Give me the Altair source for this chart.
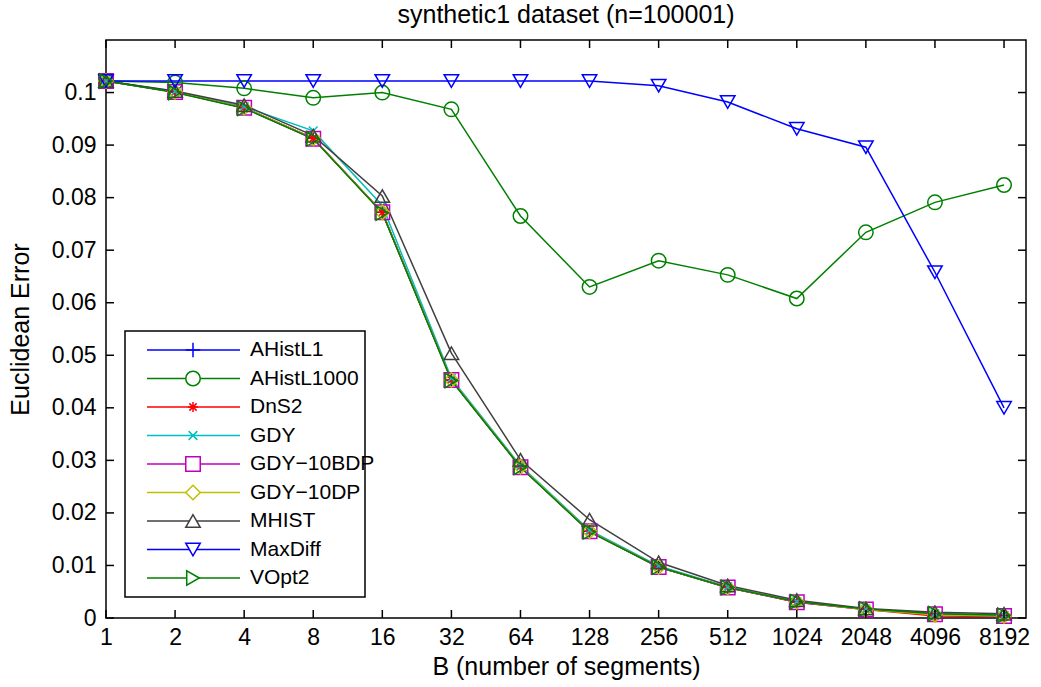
import altair as alt
import pandas as pd

# ---------------- data ----------------
B = [1, 2, 4, 8, 16, 32, 64, 128, 256, 512, 1024, 2048, 4096, 8192]

series_names = ["AHistL1", "AHistL1000", "DnS2", "GDY", "GDY−10BDP",
                "GDY−10DP", "MHIST", "MaxDiff", "VOpt2"]

ahistl1 = [0.1022, 0.1001, 0.0971, 0.0913, 0.0772, 0.0453, 0.0288, 0.0165, 0.0097, 0.0058, 0.0031, 0.0017, 0.0008, 0.0005]
ahistl1000 = [0.1022, 0.1019, 0.1008, 0.0990, 0.1000, 0.0968, 0.0765, 0.0630, 0.0680, 0.0653, 0.0608, 0.0734, 0.0791, 0.0824]
dns2 = [0.1022, 0.1001, 0.0971, 0.0913, 0.0772, 0.0453, 0.0288, 0.0165, 0.0097, 0.0058, 0.0030, 0.0016, 0.0004, 0.0003]
gdy = [0.1022, 0.1002, 0.0973, 0.0927, 0.0785, 0.0456, 0.0290, 0.0167, 0.0099, 0.0059, 0.0031, 0.0017, 0.0008, 0.0005]
gdy10bdp = [0.1022, 0.1001, 0.0971, 0.0912, 0.0772, 0.0453, 0.0287, 0.0165, 0.0097, 0.0058, 0.0030, 0.0016, 0.0007, 0.0004]
gdy10dp = [0.1022, 0.1001, 0.0971, 0.0913, 0.0772, 0.0453, 0.0288, 0.0165, 0.0097, 0.0058, 0.0031, 0.0016, 0.0006, 0.0004]
mhist = [0.1022, 0.1003, 0.0976, 0.0918, 0.0803, 0.0504, 0.0301, 0.0187, 0.0106, 0.0062, 0.0034, 0.0018, 0.0011, 0.0008]
maxdiff = [0.1022, 0.1022, 0.1022, 0.1022, 0.1022, 0.1022, 0.1022, 0.1022, 0.1013, 0.0982, 0.0931, 0.0896, 0.0658, 0.0400]
vopt2 = [0.1022, 0.1000, 0.0970, 0.0912, 0.0771, 0.0452, 0.0287, 0.0164, 0.0097, 0.0058, 0.0031, 0.0017, 0.0008, 0.0005]

y_ticks = [0, 0.01, 0.02, 0.03, 0.04, 0.05, 0.06, 0.07, 0.08, 0.09, 0.1]

series_values = [ahistl1, ahistl1000, dns2, gdy, gdy10bdp, gdy10dp, mhist, maxdiff, vopt2]

colors = ["#0000ff", "#008000", "#ff0000", "#00bfbf", "#bf00bf",
          "#bfbf00", "#404040", "#0000ff", "#008000"]
shapes = [
    "M-1,0L1,0M0,-1L0,1",                                   # +
    "circle",                                               # o
    "M-0.7,0L0.7,0M0,-0.7L0,0.7M-0.5,-0.5L0.5,0.5M-0.5,0.5L0.5,-0.5",  # *
    "M-0.6,-0.6L0.6,0.6M-0.6,0.6L0.6,-0.6",                 # x
    "square",                                               # s
    "diamond",                                              # d
    "triangle-up",                                          # ^
    "triangle-down",                                        # v
    "triangle-right",                                       # >
]

# ---------------- tables ----------------
rows = []
for name, vals in zip(series_names, series_values):
    for b, v in zip(B, vals):
        rows.append({"series": name, "B": b, "err": v})
df = pd.DataFrame(rows)
legend_df = pd.DataFrame({"name": series_names})
xt_df = pd.DataFrame({"t": B})
yt_df = pd.DataFrame({"v": y_ticks})

W, H = 920, 578
FONT = "Liberation Sans"

xscale = alt.Scale(type="log", base=2, domain=[1, 10212], nice=False)
yscale = alt.Scale(domain=[0, 0.11], nice=False, zero=False)
cscale = alt.Scale(domain=series_names, range=colors)
sscale = alt.Scale(domain=series_names, range=shapes)

xaxis = alt.Axis(values=B, format="d", title="B (number of segments)",
                 labelPadding=8, labelFlush=False, labelOverlap=False,
                 titleBaseline="alphabetic", titleY=56)
yaxis = alt.Axis(values=y_ticks, format="~g", title="Euclidean Error",
                 labelPadding=10, labelFlush=False, labelOverlap=False,
                 titleBaseline="alphabetic", titleX=-78, titleY=H / 2)

lines = alt.Chart(df).mark_line(strokeWidth=1.5).encode(
    x=alt.X("B:Q", scale=xscale, axis=xaxis),
    y=alt.Y("err:Q", scale=yscale, axis=yaxis),
    color=alt.Color("series:N", scale=cscale, legend=None),
    order="B:Q",
)

points = alt.Chart(df).mark_point(filled=False, size=210, strokeWidth=1.5, opacity=1).encode(
    x=alt.X("B:Q", scale=xscale),
    y=alt.Y("err:Q", scale=yscale, axis=None),
    color=alt.Color("series:N", scale=cscale, legend=None),
    shape=alt.Shape("series:N", scale=sscale, legend=None),
)

TL = 8
tick_bottom = alt.Chart(xt_df).mark_rule(color="black", strokeWidth=1.5).encode(
    x=alt.X("t:Q", scale=xscale), y=alt.value(H), y2=alt.value(H - TL))
tick_top = alt.Chart(xt_df).mark_rule(color="black", strokeWidth=1.5).encode(
    x=alt.X("t:Q", scale=xscale), y=alt.value(0), y2=alt.value(TL))
tick_left = alt.Chart(yt_df).mark_rule(color="black", strokeWidth=1.5).encode(
    y=alt.Y("v:Q", scale=yscale, axis=None), x=alt.value(0), x2=alt.value(TL))
tick_right = alt.Chart(yt_df).mark_rule(color="black", strokeWidth=1.5).encode(
    y=alt.Y("v:Q", scale=yscale, axis=None), x=alt.value(W - TL), x2=alt.value(W))

# ---------------- legend ----------------
lscale = alt.Scale(type="point", domain=series_names, range=[310, 538], padding=0)
legend_box = alt.Chart(pd.DataFrame({"k": [0]})).mark_rect(
    fill="white", stroke="black", strokeWidth=1.5).encode(
    x=alt.value(19), x2=alt.value(259), y=alt.value(291), y2=alt.value(557))
legend_lines = alt.Chart(legend_df).mark_rule(strokeWidth=1.5).encode(
    y=alt.Y("name:N", scale=lscale, axis=None),
    x=alt.value(41), x2=alt.value(134),
    color=alt.Color("name:N", scale=cscale, legend=None))
legend_points = alt.Chart(legend_df).mark_point(
    filled=False, size=210, strokeWidth=1.5, opacity=1, fill="white").encode(
    y=alt.Y("name:N", scale=lscale, axis=None),
    x=alt.value(87),
    color=alt.Color("name:N", scale=cscale, legend=None),
    shape=alt.Shape("name:N", scale=sscale, legend=None))
legend_text = alt.Chart(legend_df).mark_text(
    align="left", baseline="middle", fontSize=21, font=FONT, color="black").encode(
    y=alt.Y("name:N", scale=lscale, axis=None),
    x=alt.value(144),
    text="name:N")

chart = alt.layer(
    lines, points, tick_bottom, tick_top, tick_left, tick_right,
    legend_box, legend_lines, legend_points, legend_text,
).resolve_scale(y="independent").properties(
    width=W, height=H,
    title=alt.TitleParams("synthetic1 dataset (n=100001)", fontSize=25, font=FONT,
                          fontWeight="normal", baseline="alphabetic", offset=16,
                          dy=25, frame="group", color="black"),
    padding={"left": 106, "top": 40, "right": 15, "bottom": 69},
    autosize=alt.AutoSizeParams(type="none"),
    background="white",
).configure_view(
    stroke="black", strokeWidth=1.5
).configure_axis(
    domain=False, ticks=False, grid=False,
    labelFont=FONT, labelFontSize=23, labelColor="black",
    titleFont=FONT, titleFontSize=25, titleFontWeight="normal", titleColor="black",
)

chart.save("out.html", embed_options={"renderer": "svg", "actions": False})
